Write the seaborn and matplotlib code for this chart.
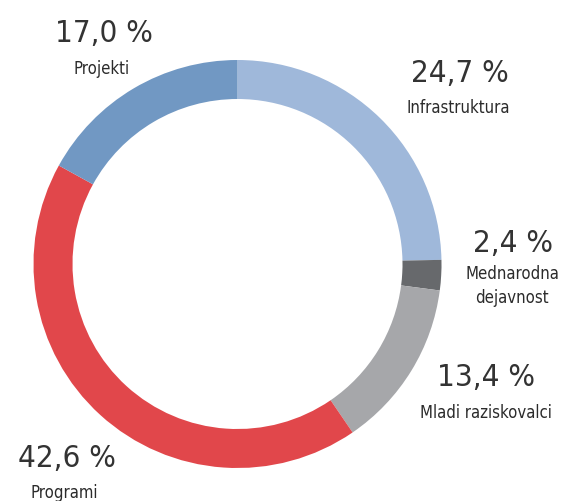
import matplotlib
matplotlib.use("Agg")
import matplotlib.pyplot as plt
import seaborn as sns

# Data
categories = ["Infrastruktura", "Mednarodna\ndejavnost", "Mladi raziskovalci", "Programi", "Projekti"]
shares = [24.7, 2.4, 13.4, 42.6, 17.0]
colors = ["#9fb8da", "#67696c", "#a6a7aa", "#e1474b", "#7198c3"]

# label positions (pixels, origin top-left)
num_pos = [(460, 74), (513, 244), (486, 378), (67, 459), (104, 34)]
name_pos = [(458, 108), (512, 286), (486, 413), (64, 493), (102, 69)]

sns.set_theme(style="white")
plt.rcParams["font.family"] = ["DejaVu Sans"]

W, H = 566, 502
fig = plt.figure(figsize=(W / 100, H / 100), dpi=100)
ax = fig.add_axes([0, 0, 1, 1])

ax.pie(shares, colors=colors, startangle=90, counterclock=False,
       center=(237.5, H - 265), radius=204,
       wedgeprops=dict(width=39, edgecolor="none"))

for share, name, (nx, ny), (lx, ly) in zip(shares, categories, num_pos, name_pos):
    ax.text(nx, H - ny, f"{share:.1f} %".replace(".", ","), ha="center", va="center",
            fontsize=22.5, color="#333333", fontstretch="condensed")
    ax.text(lx, H - ly, name, ha="center", va="center", fontsize=12,
            color="#2b2b2b", fontstretch="condensed", linespacing=1.4)

ax.set_xlim(0, W)
ax.set_ylim(0, H)
ax.set_aspect("equal")
ax.axis("off")

fig.savefig("out.png", dpi=100, facecolor="white")
